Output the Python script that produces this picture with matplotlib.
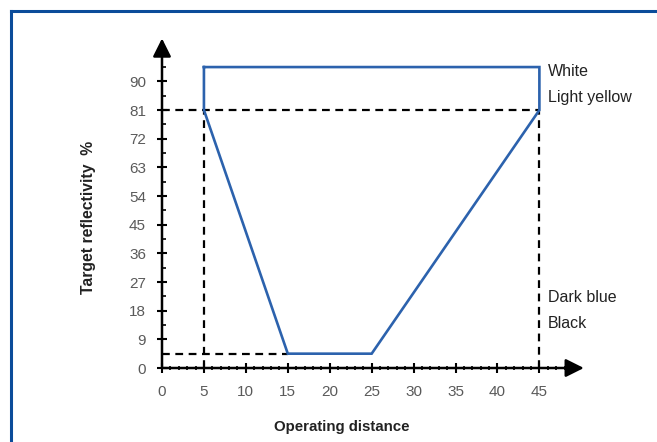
import numpy as np
import matplotlib.pyplot as plt
from matplotlib.lines import Line2D

plt.rcParams['font.family'] = ['Liberation Sans', 'DejaVu Sans']

# operating range outline (distance, reflectivity %)
range_x = [5, 45, 45, 25, 15, 5, 5]
range_y = [94.5, 94.5, 81, 4.5, 4.5, 81, 94.5]

x_ticks = [0, 5, 10, 15, 20, 25, 30, 35, 40, 45]
y_ticks = [0, 9, 18, 27, 36, 45, 54, 63, 72, 81, 90]

ref_high = 81
ref_low = 4.5
dist_near = 5
dist_far = 45
dist_low_end = 15

labels_top = ['White', 'Light yellow']
labels_bottom = ['Dark blue', 'Black']

fig = plt.figure(figsize=(6.57, 4.42), dpi=100)
ax = fig.add_axes([162/657, 74/442, 421/657, 328/442])
ax.set_xlim(0, 50.2)
ax.set_ylim(0, 103)
for s in ax.spines.values():
    s.set_visible(False)

# axes with arrow heads
ax.annotate('', xy=(50.3, 0), xytext=(0, 0),
            arrowprops=dict(arrowstyle='-|>,head_length=1.1,head_width=0.55', color='black', lw=1.8, shrinkA=0, shrinkB=0),
            annotation_clip=False)
ax.annotate('', xy=(0, 103.5), xytext=(0, 0),
            arrowprops=dict(arrowstyle='-|>,head_length=1.1,head_width=0.55', color='black', lw=1.8, shrinkA=0, shrinkB=0),
            annotation_clip=False)

ax.set_xticks(x_ticks)
ax.set_yticks(y_ticks)
ax.set_xticks(np.arange(0, 50, 1), minor=True)
ax.set_yticks(np.arange(0, 100, 4.5), minor=True)
ax.tick_params(axis='both', which='major', direction='inout', length=7, width=1.5, color='black',
               labelsize=11, labelcolor='#5a5a5a')
ax.tick_params(axis='x', which='minor', direction='inout', length=3, width=1.2, color='black')
ax.tick_params(axis='y', which='minor', direction='in', length=3, width=1.2, color='black')
ax.tick_params(axis='x', which='major', pad=9)
ax.tick_params(axis='y', which='major', pad=8)

# dashed guide lines
dash = dict(color='black', lw=1.6, ls=(0, (3.5, 2.5)), zorder=2)
ax.plot([0, dist_far], [ref_high, ref_high], **dash)
ax.plot([dist_near, dist_near], [0, ref_high], **dash)
ax.plot([dist_far, dist_far], [0, ref_high], **dash)
ax.plot([0, dist_low_end], [ref_low, ref_low], **dash)

ax.plot(range_x, range_y, color='#2c62ad', lw=1.9, zorder=3, solid_joinstyle='miter')

ax.text(46, 93, labels_top[0], fontsize=11.5, color='#222222', va='center')
ax.text(46, 85, labels_top[1], fontsize=11.5, color='#222222', va='center')
ax.text(46, 22, labels_bottom[0], fontsize=11.5, color='#222222', va='center')
ax.text(46, 14, labels_bottom[1], fontsize=11.5, color='#222222', va='center')

fig.text(342/657, 1 - 427/442, 'Operating distance', ha='center', va='center',
         fontsize=10.8, fontweight='bold', color='#222222')
fig.text(88/657, 1 - 217/442, 'Target reflectivity  %', ha='center', va='center',
         rotation=90, fontsize=11.3, fontweight='bold', color='#222222')

# blue frame on top and left
frame = '#0b4c9a'
fig.add_artist(Line2D([11/657, 1], [1 - 11/442, 1 - 11/442], color=frame, lw=2.2, transform=fig.transFigure))
fig.add_artist(Line2D([11/657, 11/657], [0, 1 - 11/442], color=frame, lw=2.2, transform=fig.transFigure,
                      solid_capstyle='projecting'))

fig.savefig('out.png', dpi=100)
